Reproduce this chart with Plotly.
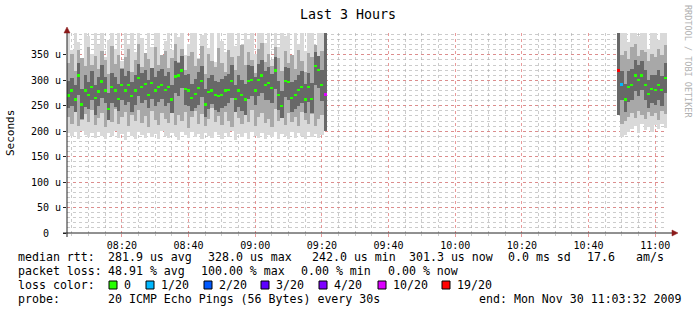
import plotly.graph_objects as go
import pandas as pd

FONT = "DejaVu Sans Mono"
W, H = 697, 316
PL, PR, PT, PB = 67, 667, 33, 233   # plot area in px

# ---------------- data (microseconds) ----------------
seg1_start = "2009-11-30 08:04:00"
seg2_start = "2009-11-30 10:49:00"

median1 = [270, 280, 262, 309, 252, 280, 271, 287, 265, 278,
           298, 280, 244, 287, 280, 263, 291, 280, 291, 269,
           280, 305, 287, 293, 271, 295, 280, 287, 291, 281,
           287, 262, 307, 309, 319, 283, 280, 265, 273, 285,
           299, 252, 277, 280, 271, 269, 271, 280, 281, 299,
           263, 280, 271, 262, 299, 301, 280, 301, 309, 291,
           295, 285, 319, 271, 250, 299, 297, 265, 271, 281,
           287, 262, 287, 263, 328, 320, 291, 272]
loss1 = ["0"] * 77 + ["10/20"]

smoke_min1 = [196, 190, 198, 185, 200, 192, 188, 197, 186, 199,
              190, 184, 196, 191, 200, 187, 194, 183, 198, 190,
              185, 199, 192, 186, 197, 189, 195, 184, 200, 191,
              187, 196, 190, 183, 198, 193, 186, 199, 188, 195,
              184, 197, 190, 186, 199, 192, 185, 196, 189, 200,
              183, 194, 188, 197, 185, 199, 191, 186, 196, 184,
              193, 189, 198, 185, 195, 190, 184, 199, 187, 196,
              191, 185, 198, 188, 194, 186, 192, 200]
smoke_max1 = [393, 360, 393, 375, 340, 393, 388, 352, 393, 370,
              393, 345, 380, 393, 362, 393, 338, 393, 371, 393,
              355, 393, 384, 348, 393, 366, 393, 393, 342, 377,
              393, 359, 393, 386, 393, 350, 372, 393, 393, 344,
              390, 393, 363, 393, 337, 393, 378, 356, 393, 393,
              368, 393, 345, 393, 381, 393, 352, 393, 393, 374,
              393, 340, 393, 365, 393, 387, 393, 349, 393, 371,
              393, 358, 393, 393, 343, 393, 393, 393]
mid_lo1 = [228, 215, 238, 210, 222, 233, 218, 241, 212, 226,
           236, 208, 230, 219, 244, 214, 227, 237, 211, 232,
           220, 242, 216, 229, 209, 239, 223, 213, 235, 225,
           217, 243, 212, 231, 221, 238, 207, 227, 240, 215,
           233, 210, 224, 246, 218, 229, 212, 237, 221, 208,
           239, 226, 214, 232, 219, 241, 211, 228, 235, 216,
           224, 209, 243, 220, 230, 213, 236, 218, 227, 211,
           238, 222, 215, 234, 210, 225, 231, 200]
mid_hi1 = [335, 352, 318, 360, 344, 328, 365, 330, 348, 322,
           357, 340, 312, 368, 333, 350, 325, 345, 362, 316,
           339, 371, 327, 354, 342, 319, 366, 331, 349, 358,
           324, 343, 372, 336, 361, 320, 347, 355, 329, 341,
           367, 313, 352, 338, 326, 363, 334, 317, 359, 345,
           321, 348, 369, 330, 356, 340, 315, 362, 374, 337,
           351, 328, 366, 343, 319, 357, 335, 349, 323, 360,
           338, 316, 354, 346, 370, 332, 358, 393]
core_lo1 = [245, 250, 238, 272, 225, 248, 243, 262, 232, 250,
            265, 255, 222, 255, 247, 240, 262, 251, 258, 238,
            252, 270, 255, 262, 246, 264, 249, 258, 263, 250,
            255, 236, 275, 270, 284, 252, 250, 240, 246, 251,
            268, 228, 244, 253, 242, 238, 246, 250, 255, 265,
            238, 248, 240, 231, 264, 270, 252, 270, 275, 262,
            262, 255, 283, 242, 226, 268, 262, 238, 244, 250,
            256, 235, 258, 236, 290, 285, 260, 200]
core_hi1 = [298, 305, 290, 335, 282, 310, 296, 318, 291, 306,
            330, 307, 275, 315, 306, 292, 322, 309, 318, 297,
            310, 333, 314, 320, 300, 325, 306, 318, 322, 308,
            316, 290, 338, 335, 348, 310, 312, 293, 302, 316,
            328, 282, 305, 311, 298, 297, 303, 308, 312, 330,
            290, 310, 300, 292, 330, 328, 306, 332, 340, 318,
            326, 312, 346, 299, 280, 327, 325, 296, 300, 310,
            318, 292, 315, 294, 355, 348, 321, 393]

median2 = [319, 292, 262, 287, 291, 309, 301, 309, 291, 273, 283, 281, 291, 281, 305]
loss2 = ["19/20", "1/20"] + ["0"] * 13
smoke_min2 = [232, 188, 192, 198, 205, 210, 196, 214, 202, 208, 199, 212, 204, 215, 207]
smoke_max2 = [393, 393, 393, 376, 393, 393, 388, 393, 393, 362, 393, 393, 380, 393, 393]
mid_lo2 = [232, 215, 220, 228, 235, 226, 240, 231, 225, 238, 229, 236, 222, 240, 233]
mid_hi2 = [393, 350, 358, 342, 366, 372, 347, 360, 355, 338, 352, 346, 362, 349, 370]
core_lo2 = [232, 262, 238, 258, 262, 280, 270, 281, 262, 245, 255, 252, 262, 250, 275]
core_hi2 = [393, 318, 292, 318, 322, 340, 330, 338, 320, 300, 311, 310, 320, 308, 335]

loss_labels = ["0", "1/20", "2/20", "3/20", "4/20", "10/20", "19/20"]
loss_colors = ["#26ff00", "#00b8ff", "#0059ff", "#5e00ff", "#7e00ff", "#dd00ff", "#ff0000"]

y_tickvals = [0, 50, 100, 150, 200, 250, 300, 350]
y_ticktext = ["0<span style='color:rgba(0,0,0,0)'>uu</span>", "50 u", "100 u", "150 u",
              "200 u", "250 u", "300 u", "350 u"]

legend_rtt = [("median rtt:", 17), ("281.9 us avg", 107), ("328.0 us max", 207),
              ("242.0 us min", 311), ("301.3 us now", 408), ("0.0 ms sd", 507),
              ("17.6", 586), ("am/s", 635)]
legend_loss = [("packet loss:", 17), ("48.91 % avg", 107), ("100.00 % max", 200),
               ("0.00 % min", 300), ("0.00 % now", 387)]
legend_probe = [("probe:", 17), ("20 ICMP Echo Pings (56 Bytes) every 30s", 107),
                ("end: Mon Nov 30 11:03:32 2009", 478)]
legend_color_x = [109, 146, 204, 261, 319, 378, 442]

# ---------------- build ----------------
t1 = list(pd.date_range(seg1_start, periods=len(median1), freq="1min"))
t2 = list(pd.date_range(seg2_start, periods=len(median2), freq="1min"))
times = t1 + t2
median = median1 + median2
loss = loss1 + loss2
layers = [
    (smoke_min1 + smoke_min2, smoke_max1 + smoke_max2, "#d9d9d9"),
    (mid_lo1 + mid_lo2, mid_hi1 + mid_hi2, "#a8a8a8"),
    (core_lo1 + core_lo2, core_hi1 + core_hi2, "#686868"),
]

fig = go.Figure()
for lo, hi, col in layers:
    fig.add_trace(go.Bar(x=times, y=[h - l for l, h in zip(lo, hi)], base=lo,
                         width=60000, marker=dict(color=col, line=dict(width=0)),
                         hoverinfo="skip", showlegend=False))
cmap = dict(zip(loss_labels, loss_colors))
fig.add_trace(go.Bar(x=times, y=[5] * len(median), base=[m - 2.5 for m in median],
                     width=56000, marker=dict(color=[cmap[l] for l in loss], line=dict(width=0)),
                     hoverinfo="skip", showlegend=False))


def px(x):
    return (x - PL) / (PR - PL)


def py(y):
    return (PB - y) / (PB - PT)


ann = []
shapes = []
LF = dict(family=FONT, size=11.6, color="black")


def text(s, x, y, font=LF, **kw):
    d = dict(text=s, x=px(x), y=py(y), xref="paper", yref="paper", showarrow=False,
             xanchor="left", yanchor="middle", font=font, borderpad=0)
    d.update(kw)
    ann.append(d)


for s, x in legend_rtt:
    text(s, x, 257)
for s, x in legend_loss:
    text(s, x, 271)
text("loss color:", 17, 285)
for lab, col, x in zip(loss_labels, loss_colors, legend_color_x):
    shapes.append(dict(type="rect", xref="paper", yref="paper", x0=px(x), x1=px(x + 8),
                       y0=py(281), y1=py(289), fillcolor=col, line=dict(color="black", width=1)))
    text(lab, x + 14, 285)
for s, x in legend_probe:
    text(s, x, 299)

# title, axis label, watermark
ann.append(dict(text="Last 3 Hours", x=px(348), y=py(14), xref="paper", yref="paper",
                showarrow=False, xanchor="center", yanchor="middle",
                font=dict(family=FONT, size=13.3, color="black")))
ann.append(dict(text="Seconds", x=px(10), y=py(133), xref="paper", yref="paper",
                showarrow=False, xanchor="center", yanchor="middle", textangle=-90,
                font=dict(family=FONT, size=11, color="black")))
ann.append(dict(text="RRDTOOL / TOBI OETIKER", x=px(688), y=py(61), xref="paper", yref="paper",
                showarrow=False, xanchor="center", yanchor="middle", textangle=90,
                font=dict(family=FONT, size=8.5, color="#b0b0b0")))

# axis lines + arrows
AX = "#222222"
AR = "#8b1a1a"
shapes.append(dict(type="line", xref="paper", yref="paper", x0=px(63), x1=px(672),
                   y0=0, y1=0, line=dict(color=AX, width=1)))
shapes.append(dict(type="line", xref="paper", yref="paper", x0=0, x1=0,
                   y0=py(237), y1=py(31), line=dict(color=AX, width=1)))
shapes.append(dict(type="path", xref="paper", yref="paper",
                   path=f"M {px(64)} {py(33)} L {px(70)} {py(33)} L {px(67)} {py(27)} Z",
                   fillcolor=AR, line=dict(color=AR, width=0.5)))
shapes.append(dict(type="path", xref="paper", yref="paper",
                   path=f"M {px(672)} {py(230)} L {px(672)} {py(236)} L {px(678)} {py(233)} Z",
                   fillcolor=AR, line=dict(color=AR, width=0.5)))

MAJ = "rgba(225,120,120,0.75)"
MIN = "rgba(170,170,170,0.6)"
fig.update_layout(
    width=W, height=H, margin=dict(l=PL, r=W - PR, t=PT, b=H - PB),
    paper_bgcolor="white", plot_bgcolor="white",
    barmode="overlay", bargap=0, showlegend=False,
    font=dict(family=FONT, size=10, color="black"),
    annotations=ann, shapes=shapes,
    xaxis=dict(type="date", range=["2009-11-30 08:03:32", "2009-11-30 11:03:32"],
               tickformat="%H:%M", tick0="2009-11-30 08:00:00", dtick=1200000,
               showgrid=True, gridcolor=MAJ, griddash="dot", gridwidth=1,
               ticks="outside", ticklen=3, tickcolor=MAJ, zeroline=False, showline=False,
               tickfont=dict(family=FONT, size=10, color="black"),
               minor=dict(dtick=300000, tick0="2009-11-30 08:00:00", showgrid=True,
                          gridcolor=MIN, griddash="dot", ticks="outside", ticklen=2,
                          tickcolor=MIN)),
    yaxis=dict(range=[0, 393], tickvals=y_tickvals, ticktext=y_ticktext,
               showgrid=True, gridcolor=MAJ, griddash="dot", gridwidth=1,
               ticks="outside", ticklen=3, tickcolor=AX, zeroline=False, showline=False,
               tickfont=dict(family=FONT, size=10, color="black"),
               minor=dict(dtick=10, showgrid=True, gridcolor=MIN, griddash="dot")),
)
fig.write_html("out.html")
